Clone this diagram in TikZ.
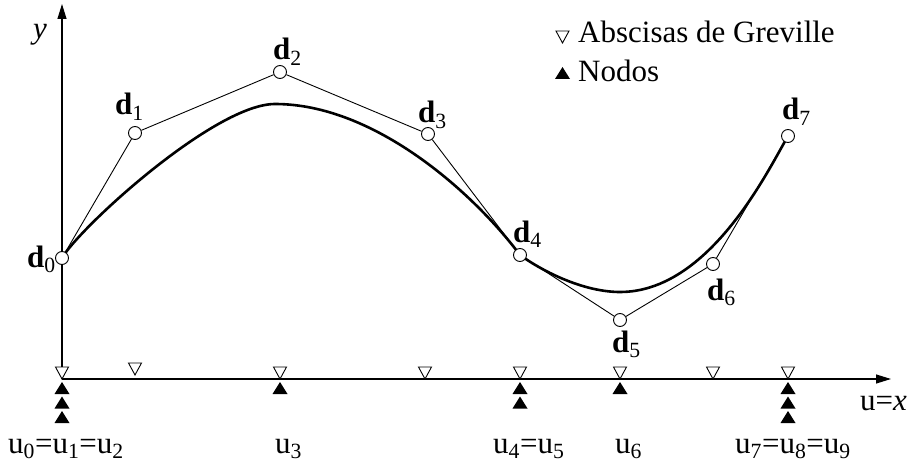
\documentclass[tikz,border=0pt]{standalone}
\usepackage{fontspec}
\setmainfont{Liberation Serif}
\usetikzlibrary{arrows.meta,backgrounds}

\newcommand{\dpt}[1]{\textbf{d}\textsubscript{#1}}
\newcommand{\uk}[1]{u\textsubscript{#1}}

\begin{document}
\begin{tikzpicture}[
    x=1pt, y=-1pt,
    ctrl/.style={circle, draw, fill=white, line width=0.9pt, minimum size=13pt, inner sep=0pt},
    axis/.style={line width=1.2pt, -{Triangle[length=15pt,width=9pt]}},
    poly/.style={line width=0.9pt},
    spline/.style={line width=2.6pt, line join=round},
    lbl/.style={font=\fontsize{31}{31}\selectfont, inner sep=0pt, anchor=base west},
    grev/.pic={\draw[line width=0.9pt, fill=white] (0,0) -- (-6.5,-12) -- (6.5,-12) -- cycle;},
    knot/.pic={\fill (0,0) -- (-7.5,12) -- (7.5,12) -- cycle;},
]
\useasboundingbox (0,0) rectangle (911,468);

% ── Control points ──────────────────────────────────────────────
\node[ctrl] (d0) at (62,258)  {};
\node[ctrl] (d1) at (135,133) {};
\node[ctrl] (d2) at (280,72)  {};
\node[ctrl] (d3) at (428,134) {};
\node[ctrl] (d4) at (520,255) {};
\node[ctrl] (d5) at (620,320) {};
\node[ctrl] (d6) at (713,264) {};
\node[ctrl] (d7) at (788,136) {};

% ── Control polygon ─────────────────────────────────────────────
\draw[poly] (d0) -- (d1) -- (d2) -- (d3) -- (d4) -- (d5) -- (d6) -- (d7);

% ── Axes and spline curve (behind the points) ──────────────────
\coordinate (O)    at (62,379);
\coordinate (ytip) at (62,4);
\coordinate (xtip) at (891,379);
\coordinate (top)  at (275,104);
\coordinate (low)  at (620,292);
\begin{scope}[on background layer]
    \draw[axis] (O) -- (ytip);
    \draw[axis] (O) -- (xtip);
    \draw[spline] (d0.center) .. controls (80.25,226.75) and (215,104) .. (top)
        .. controls (375,104) and (474,193.5) .. (d4.center)
        .. controls (545,273) and (585,292) .. (low)
        .. controls (710,292) and (769.25,168) .. (d7.center);
\end{scope}

% ── Greville abscissae and knots ───────────────────────────────
\foreach \gx/\gy in {62/379,135/375,280/379,425/379,520/379,620/379,713/379,788/379}
    \pic at (\gx,\gy) {grev};
\foreach \kx/\km in {62/3,280/1,520/2,620/1,788/3}
    \foreach \k in {1,...,\km}
        \pic at (\kx,{382+14.5*(\k-1)}) {knot};

% ── Point labels ────────────────────────────────────────────────
\node[lbl] (l0) at (27,267)  {\dpt{0}};
\node[lbl] (l1) at (115,115) {\dpt{1}};
\node[lbl] (l2) at (273,60)  {\dpt{2}};
\node[lbl] (l3) at (418,123) {\dpt{3}};
\node[lbl] (l4) at (513,242) {\dpt{4}};
\node[lbl] (l5) at (612,352) {\dpt{5}};
\node[lbl] (l6) at (707,300) {\dpt{6}};
\node[lbl] (l7) at (782,120) {\dpt{7}};

% ── Axis and knot labels ────────────────────────────────────────
\node[lbl] (ylab) at (33,39)   {\textit{y}};
\node[lbl] (xlab) at (860,410) {u=\textit{x}};
\node[lbl] (k0)   at (8,453)   {\uk{0}=\uk{1}=\uk{2}};
\node[lbl] (k3)   at (275,453) {\uk{3}};
\node[lbl] (k4)   at (493,453) {\uk{4}=\uk{5}};
\node[lbl] (k6)   at (615,453) {\uk{6}};
\node[lbl] (k7)   at (735,453) {\uk{7}=\uk{8}=\uk{9}};

% ── Legend ──────────────────────────────────────────────────────
\pic at (562.5,43) {grev};
\node[lbl] (lgrev) at (578,43) {Abscisas de Greville};
\pic at (562.5,67) {knot};
\node[lbl] (lknot) at (578,82) {Nodos};

\end{tikzpicture}
\end{document}
